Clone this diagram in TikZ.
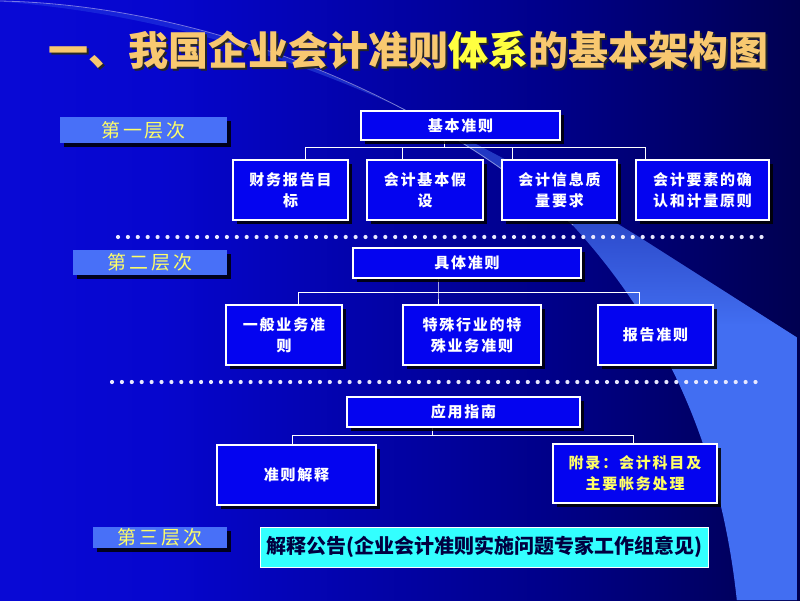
\documentclass[tikz,border=0pt]{standalone}
\usepackage{fontspec}
\setmainfont{Noto Sans CJK SC}
\newfontfamily\boxfont{Noto Sans CJK SC}[LetterSpace=12]
\usetikzlibrary{shadows,fadings}

\definecolor{bgA}{RGB}{16,16,232}
\definecolor{bgB}{RGB}{6,6,206}
\definecolor{bgC}{RGB}{0,0,135}
\definecolor{bgD}{RGB}{0,0,62}
\definecolor{bgE}{RGB}{0,0,14}
\definecolor{swblue}{RGB}{66,110,242}
\definecolor{boxblue}{RGB}{4,4,240}
\definecolor{lvlblue}{RGB}{72,112,248}
\definecolor{lvlyellow}{RGB}{255,255,102}
\definecolor{titlegold}{RGB}{248,200,112}
\definecolor{titleyellow}{RGB}{255,255,64}
\definecolor{notecyan}{RGB}{51,255,255}
\definecolor{notetext}{RGB}{0,0,64}
\definecolor{dotwhite}{RGB}{232,232,255}

\pgfdeclarehorizontalshading{bgshade}{100bp}{color(0bp)=(bgA); color(35bp)=(bgB); color(60bp)=(bgC); color(80bp)=(bgD); color(100bp)=(bgE)}
\pgfdeclareverticalshading{swshade}{100bp}{color(0bp)=(white); color(48bp)=(white); color(60bp)=(white!55!black); color(80bp)=(white!15!black); color(100bp)=(white!4!black)}
\pgfdeclarefading{swfade}{\pgfuseshading{swshade}}

\pgfdeclarelayer{back}
\pgfdeclarelayer{mid}
\pgfsetlayers{back,mid,main}

\begin{document}
\begin{tikzpicture}[x=1pt,y=-1pt,
  box/.style={draw=white, line width=1.2pt, fill=boxblue, text=white, align=center, inner sep=0pt,
    font=\boxfont\bfseries\fontsize{15}{21}\selectfont,
    drop shadow={shadow xshift=4pt, shadow yshift=-4pt, fill=black, opacity=0.85}},
  lvlbox/.style={fill=lvlblue, text=lvlyellow, inner sep=0pt, minimum height=25,
    font=\fontsize{19}{19}\selectfont\addfontfeature{LetterSpace=15},
    drop shadow={shadow xshift=4pt, shadow yshift=-4pt, fill=black, opacity=0.85}},
  tree/.style={draw=white, line width=0.9pt},
  sepline/.style={draw=dotwhite, line width=4.2pt, line cap=round, dash pattern=on 0pt off 9.9pt},
  titletext/.style={font=\bfseries\fontsize{40}{40}\selectfont}]

  \useasboundingbox (0,0) rectangle (800,600);
  \begin{pgfonlayer}{back}
    \shade[shading=bgshade] (0,0) rectangle (800,600);
    \fill[swblue, path fading=swfade] (0,1) .. controls (200,5) and (420,90) .. (573,225)
      .. controls (660,320) and (720,440) .. (737,600) -- (797,600) -- (797,337) -- (640,237)
      .. controls (450,120) and (250,20) .. (0,1);
    \draw[white, opacity=0.45, line width=0.8pt] (0,1) .. controls (200,5) and (420,90) .. (573,225);
  \end{pgfonlayer}

  \node[titletext, text=black!85] (titleshade) at (410,52) {一、我国企业会计准则体系的基本架构图};
  \node[titletext, text=titlegold] (title) at (408,50) {一、我国企业会计准则{\color{titleyellow}体系}的基本架构图};

  \node[lvlbox, minimum width=167, minimum height=26] (lvl1) at (143.5,130) {第一层次};
  \node[lvlbox, minimum width=154] (lvl2) at (150,262.5) {第二层次};
  \node[lvlbox, minimum width=134, minimum height=21] (lvl3) at (160,537) {第三层次};

  \node[box, minimum width=199, minimum height=29] (jb) at (460.5,125.5) {基本准则};
  \node[box, minimum width=115, minimum height=60] (jb1) at (290.5,190) {财务报告目\\标};
  \node[box, minimum width=116, minimum height=60] (jb2) at (425,190) {会计基本假\\设};
  \node[box, minimum width=115, minimum height=60] (jb3) at (559.5,190) {会计信息质\\量要求};
  \node[box, minimum width=133, minimum height=60] (jb4) at (702.5,190) {会计要素的确\\认和计量原则};

  \node[box, minimum width=228, minimum height=30] (jt) at (467,263) {具体准则};
  \node[box, minimum width=116, minimum height=60] (jt1) at (284,335) {一般业务准\\则};
  \node[box, minimum width=138, minimum height=60] (jt2) at (472,335) {特殊行业的特\\殊业务准则};
  \node[box, minimum width=115, minimum height=60] (jt3) at (655.5,335) {报告准则};

  \node[box, minimum width=233, minimum height=30] (yz) at (463.5,412) {应用指南};
  \node[box, minimum width=159, minimum height=60] (yz1) at (296.5,475) {准则解释};
  \node[box, minimum width=164, minimum height=59, text=lvlyellow] (yz2) at (635,473.5) {附录：会计科目及\\主要帐务处理};

  \node[fill=notecyan, text=notetext, draw=white, line width=0.8pt, minimum width=448, minimum height=40,
    inner sep=0pt, font=\bfseries\fontsize{20}{20}\selectfont] (jg) at (484,547) {解释公告(企业会计准则实施问题专家工作组意见)};

  \begin{pgfonlayer}{mid}
    \coordinate (s1a) at (118,237);
    \coordinate (s1b) at (770,237);
    \coordinate (s2a) at (112,382);
    \coordinate (s2b) at (764,382);
    \draw[sepline] (s1a) -- (s1b);
    \draw[sepline] (s2a) -- (s2b);

    \coordinate (a1) at (305,160);
    \coordinate (a2) at (402,160);
    \coordinate (a3) at (512,160);
    \coordinate (a4) at (645,160);
    \draw[tree] ([xshift=-16.5pt]jb.south) -- ++(0,7) coordinate (bus1);
    \draw[tree] (a1) |- (bus1) -| (a4);
    \draw[tree] (a2) -- (a2 |- bus1);
    \draw[tree] (a3) -- (a3 |- bus1);

    \coordinate (b1) at (298,305);
    \coordinate (b3) at (639,305);
    \draw[tree] ([xshift=-29pt]jt.south) -- ++(0,14) coordinate (bus2) -- ++(0,13);
    \draw[tree] (b1) |- (bus2) -| (b3);

    \coordinate (c1) at (292,445);
    \coordinate (c2) at (633,444);
    \draw[tree] ([xshift=-31.5pt]yz.south) -- ++(0,8) coordinate (bus3);
    \draw[tree] (c1) |- (bus3) -| (c2);
  \end{pgfonlayer}
\end{tikzpicture}
\end{document}
